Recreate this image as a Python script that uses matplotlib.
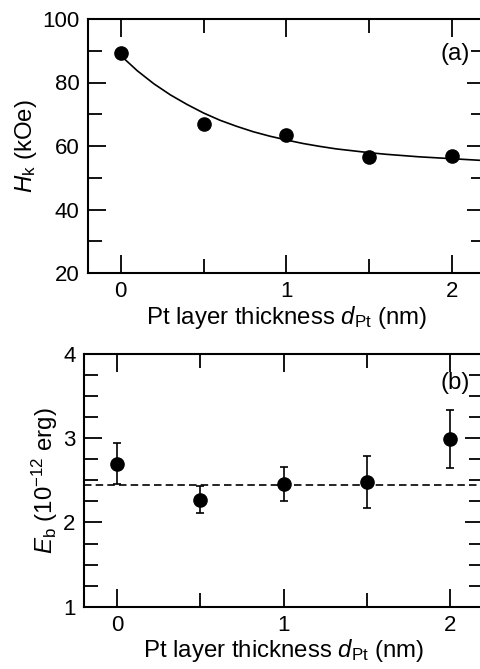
import matplotlib
matplotlib.use("Agg")
import matplotlib.pyplot as plt
from matplotlib.ticker import MultipleLocator

plt.rcParams['font.family'] = ['Liberation Sans', 'DejaVu Sans']
plt.rcParams['mathtext.fontset'] = 'custom'
plt.rcParams['mathtext.rm'] = 'Liberation Sans'
plt.rcParams['mathtext.it'] = 'Liberation Sans:italic'
plt.rcParams['mathtext.bf'] = 'Liberation Sans:bold'

# ---- data (a) ----
d_pt = [0.0, 0.5, 1.0, 1.5, 2.0]
hk = [89.2, 66.9, 63.4, 56.4, 57.0]
fit_x = [0.0, 0.1, 0.2, 0.3, 0.4, 0.5, 0.6, 0.7, 0.8, 0.9, 1.0, 1.1, 1.2, 1.3, 1.4,
         1.5, 1.6, 1.7, 1.8, 1.9, 2.0, 2.1, 2.2]
fit_y = [88.5, 83.7, 79.6, 76.1, 73.1, 70.4, 68.1, 66.2, 64.5, 63.1, 61.9, 60.8,
         59.9, 59.1, 58.5, 57.9, 57.4, 57.0, 56.6, 56.3, 56.0, 55.7, 55.4]

# ---- data (b) ----
eb = [2.70, 2.27, 2.46, 2.48, 2.99]
eb_err = [0.24, 0.16, 0.20, 0.31, 0.34]
eb_mean = 2.45

W, H = 481, 669
fig = plt.figure(figsize=(W / 100, H / 100), dpi=100)

ax1 = fig.add_axes([87.6 / W, 1 - 273 / H, (485 - 87.6) / W, (273 - 19) / H])
ax2 = fig.add_axes([84.0 / W, 1 - 606.7 / H, (483.3 - 84.0) / W, (606.7 - 354) / H])

fs = 16
lfs = 17.3
xlabel = r'Pt layer thickness $\it{d}_{\rm Pt}$ (nm)'

# (a)
ax1.plot(fit_x, fit_y, color='black', lw=1.2)
ax1.plot(d_pt, hk, 'o', color='black', ms=9.5)
ax1.set_xlim(-0.2, 2.2)
ax1.set_ylim(20, 100)
ax1.xaxis.set_major_locator(MultipleLocator(1))
ax1.xaxis.set_minor_locator(MultipleLocator(0.5))
ax1.yaxis.set_major_locator(MultipleLocator(20))
ax1.yaxis.set_minor_locator(MultipleLocator(10))
ax1.set_xlabel(xlabel, fontsize=lfs, labelpad=1)
ax1.set_ylabel(r'$\it{H}_{\rm k}$ (kOe)', fontsize=lfs, labelpad=2)
ax1.text(2.11, 89, '(a)', fontsize=lfs, ha='right', va='center')

# (b)
ax2.axhline(eb_mean, color='black', lw=1.2, ls=(0, (4.5, 2.5)))
ax2.errorbar(d_pt, eb, yerr=eb_err, fmt='o', color='black', ms=9.5,
             elinewidth=1.2, capsize=3, capthick=1.2)
ax2.set_xlim(-0.2, 2.2)
ax2.set_ylim(1, 4)
ax2.xaxis.set_major_locator(MultipleLocator(1))
ax2.xaxis.set_minor_locator(MultipleLocator(0.5))
ax2.yaxis.set_major_locator(MultipleLocator(1))
ax2.yaxis.set_minor_locator(MultipleLocator(0.25))
ax2.set_xlabel(xlabel, fontsize=lfs, labelpad=1)
ax2.set_ylabel(r'$\it{E}_{\rm b}$ (10$^{-12}$ erg)', fontsize=lfs, labelpad=2)
ax2.text(2.12, 3.66, '(b)', fontsize=lfs, ha='right', va='center')

for ax in (ax1, ax2):
    for s in ax.spines.values():
        s.set_linewidth(1.5)
    ax.tick_params(which='both', direction='in', top=True, right=True,
                   width=1.3, labelsize=fs, pad=6)
    ax.tick_params(which='major', length=13)
    ax.tick_params(which='minor', length=10)

fig.savefig('out.png', dpi=100)
